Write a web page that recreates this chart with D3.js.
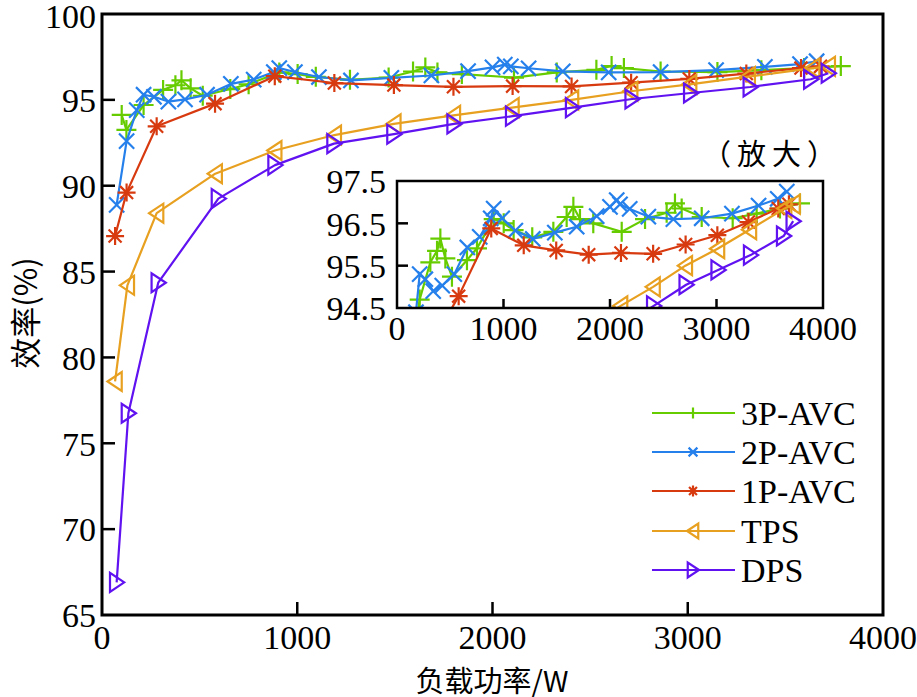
<!DOCTYPE html>
<html><head><meta charset="utf-8">
<script src="https://cdn.jsdelivr.net/npm/d3@7"></script>
<style>body{margin:0;background:#fff}svg{display:block}</style>
</head><body>
<svg id="c" width="917" height="697"></svg>
<script>
const seriesNames = ["3P-AVC","2P-AVC","1P-AVC","TPS","DPS"];
const seriesColors = ["#66cc00","#2680ec","#d83a10","#e8a020","#6012f0"];
const seriesMarkers = ["plus","cross","star","triLeft","triRight"];

const p3_W = [101,125,213,313,376,407,454,516,657,751,908,1002,1095,1270,1468,1593,1656,1718,1843,2110,2329,2532,2610,2673,2861,3152,3377,3596,3784];
const p3_E = [94.12,93.25,94.7,95.58,95.85,96.14,95.67,95.24,95.63,95.91,96.6,96.5,96.34,96.17,96.3,96.65,96.89,96.6,96.5,96.3,96.6,96.75,96.97,96.85,96.65,96.62,96.73,96.85,96.97];

const p2_W = [75,126,178,213,266,340,425,538,660,777,880,908,988,1111,1275,1482,1687,1875,2000,2063,2094,2185,2360,2595,2861,3145,3395,3575,3660];
const p2_E = [88.88,92.6,94.4,95.3,95.18,94.9,95.03,95.3,95.93,96.18,96.62,96.85,96.62,96.33,96.13,96.28,96.42,96.67,96.89,97.05,96.95,96.84,96.66,96.6,96.62,96.73,96.92,97.08,97.25];

const p1_W = [67,126,280,579,885,1190,1495,1800,2103,2405,2710,3008,3300,3580,3680];
const p1_E = [87.07,89.6,93.46,94.78,96.38,95.98,95.86,95.76,95.8,95.78,96.0,96.22,96.53,96.85,96.95];

const tps_W = [67,130,280,580,885,1190,1495,1800,2100,2405,2708,3010,3310,3640,3720];
const tps_E = [78.6,84.2,88.4,90.7,92.05,92.95,93.6,94.1,94.55,95.0,95.5,95.9,96.35,96.85,96.95];

const dps_W = [75,135,288,596,886,1188,1495,1803,2103,2410,2715,3015,3320,3630,3720];
const dps_E = [66.9,76.75,84.35,89.25,91.2,92.45,93.0,93.6,94.05,94.55,95.05,95.4,95.75,96.2,96.55];

const mainXTicks = [0,1000,2000,3000,4000];
const mainYTicks = [65,70,75,80,85,90,95,100];
const insetXTicks = [0,1000,2000,3000,4000];
const insetYTicks = [94.5,95.5,96.5,97.5];

const seriesW = [p3_W,p2_W,p1_W,tps_W,dps_W];
const seriesE = [p3_E,p2_E,p1_E,tps_E,dps_E];

const svg = d3.select("#c");
const FONT = "'Liberation Serif','Times New Roman',serif";
const CJK = "'Noto Sans CJK SC','Noto Sans CJK JP',sans-serif";

function markerPath(type, r){
  switch(type){
    case "plus": return `M${-r},0H${r}M0,${-r}V${r}`;
    case "cross": { const a=r*0.8; return `M${-a},${-a}L${a},${a}M${-a},${a}L${a},${-a}`; }
    case "star": { const a=r*0.72; return `M${-r},0H${r}M0,${-r}V${r}M${-a},${-a}L${a},${a}M${-a},${a}L${a},${-a}`; }
    case "triLeft": return `M${-r*0.8},0L${r*0.7},${-r}L${r*0.7},${r}Z`;
    case "triRight": return `M${r*0.8},0L${-r*0.7},${-r}L${-r*0.7},${r}Z`;
  }
}
const markerSize = {plus:10, cross:9.5, star:9, triLeft:9.5, triRight:9.5};

function drawSeries(g, xs, ys){
  seriesNames.forEach((name,i)=>{
    const data = seriesW[i].map((w,j)=>({w, e: seriesE[i][j]}));
    const line = d3.line().x(d=>xs(d.w)).y(d=>ys(d.e));
    g.append("path").attr("d", line(data)).attr("fill","none")
      .attr("stroke", seriesColors[i]).attr("stroke-width", 2.2).attr("stroke-linejoin","round");
    g.selectAll(null).data(data).enter().append("path")
      .attr("transform", d=>`translate(${xs(d.w)},${ys(d.e)})`)
      .attr("d", markerPath(seriesMarkers[i], markerSize[seriesMarkers[i]]))
      .attr("fill","none").attr("stroke", seriesColors[i]).attr("stroke-width", 2.2);
  });
}

// ---------- main plot ----------
const x = d3.scaleLinear().domain([0,4000]).range([102,883]);
const y = d3.scaleLinear().domain([65,100]).range([615,14]);

const mainG = svg.append("g");
drawSeries(mainG, x, y);

svg.append("g").selectAll(null).data(mainXTicks.slice(1,-1)).enter().append("line")
  .attr("x1",d=>x(d)).attr("x2",d=>x(d)).attr("y1",y(65)).attr("y2",y(65)-13)
  .attr("stroke","#000").attr("stroke-width",2.5);
svg.append("g").selectAll(null).data(mainYTicks.slice(1,-1)).enter().append("line")
  .attr("x1",x(0)).attr("x2",x(0)+13).attr("y1",d=>y(d)).attr("y2",d=>y(d))
  .attr("stroke","#000").attr("stroke-width",2.5);
svg.append("rect").attr("x",x(0)).attr("y",y(100)).attr("width",x(4000)-x(0)).attr("height",y(65)-y(100))
  .attr("fill","none").attr("stroke","#000").attr("stroke-width",3);

svg.append("g").selectAll(null).data(mainXTicks).enter().append("text")
  .attr("x",d=>x(d)).attr("y",649).attr("text-anchor","middle")
  .attr("font-family",FONT).attr("font-size",34).text(d=>d);
svg.append("g").selectAll(null).data(mainYTicks).enter().append("text")
  .attr("x",96).attr("y",d=>y(d)).attr("dy",d=>d===100?"0.42em":"0.36em").attr("text-anchor","end")
  .attr("font-family",FONT).attr("font-size",34).text(d=>d);

svg.append("text").attr("x",492).attr("y",692).attr("text-anchor","middle")
  .attr("font-family",CJK).attr("font-size",29).text("负载功率/W");
svg.append("text").attr("transform","translate(37,313) rotate(-90)").attr("text-anchor","middle")
  .attr("font-family",CJK).attr("font-size",31).text("效率(%)");

// ---------- inset ----------
const xi = d3.scaleLinear().domain([0,4000]).range([397,823]);
const yi = d3.scaleLinear().domain([94.5,97.5]).range([308,181]);
svg.append("rect").attr("x",xi(0)).attr("y",yi(97.5)).attr("width",xi(4000)-xi(0)).attr("height",yi(94.5)-yi(97.5))
  .attr("fill","#fff");
svg.append("defs").append("clipPath").attr("id","ic").append("rect")
  .attr("x",xi(0)).attr("y",yi(97.5)).attr("width",xi(4000)-xi(0)).attr("height",yi(94.5)-yi(97.5));
const insetG = svg.append("g").attr("clip-path","url(#ic)");
drawSeries(insetG, xi, yi);

svg.append("g").selectAll(null).data(insetXTicks.slice(1,-1)).enter().append("line")
  .attr("x1",d=>xi(d)).attr("x2",d=>xi(d)).attr("y1",yi(94.5)).attr("y2",yi(94.5)-9)
  .attr("stroke","#000").attr("stroke-width",2.5);
svg.append("g").selectAll(null).data(insetYTicks.slice(1,-1)).enter().append("line")
  .attr("x1",xi(0)).attr("x2",xi(0)+11).attr("y1",d=>yi(d)).attr("y2",d=>yi(d))
  .attr("stroke","#000").attr("stroke-width",2.5);
svg.append("rect").attr("x",xi(0)).attr("y",yi(97.5)).attr("width",xi(4000)-xi(0)).attr("height",yi(94.5)-yi(97.5))
  .attr("fill","none").attr("stroke","#000").attr("stroke-width",2.5);
svg.append("g").selectAll(null).data(insetXTicks).enter().append("text")
  .attr("x",d=>xi(d)).attr("y",340).attr("text-anchor","middle")
  .attr("font-family",FONT).attr("font-size",34).text(d=>d);
svg.append("g").selectAll(null).data(insetYTicks).enter().append("text")
  .attr("x",386).attr("y",d=>yi(d)).attr("dy","0.36em").attr("text-anchor","end")
  .attr("font-family",FONT).attr("font-size",34).text(d=>d3.format(".1f")(d));
svg.append("text").attr("x",772).attr("y",165).attr("text-anchor","middle")
  .attr("font-family",CJK).attr("font-size",29).attr("letter-spacing","6px").text("（放大）");

// ---------- legend ----------
const legY = [413,452,491,531,570];
const legendMarkerSize = {plus:5.5, cross:5.5, star:5.5, triLeft:7.5, triRight:7.5};
seriesNames.forEach((name,i)=>{
  const g = svg.append("g").attr("transform",`translate(0,${legY[i]})`);
  g.append("line").attr("x1",652).attr("x2",735).attr("y1",0).attr("y2",0)
    .attr("stroke",seriesColors[i]).attr("stroke-width",2.2);
  g.append("path").attr("transform","translate(693,0)")
    .attr("d", markerPath(seriesMarkers[i], legendMarkerSize[seriesMarkers[i]]))
    .attr("fill","none").attr("stroke",seriesColors[i]).attr("stroke-width",2.2);
  g.append("text").attr("x",741).attr("y",0).attr("dy","0.35em")
    .attr("font-family",FONT).attr("font-size",34).text(name);
});
</script>
</body></html>
